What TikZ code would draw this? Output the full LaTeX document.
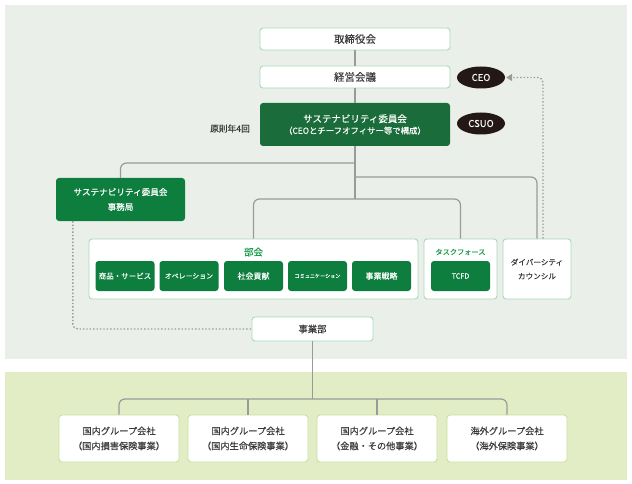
\documentclass[tikz,border=0pt]{standalone}
\usepackage{fontspec}
\setmainfont{Noto Sans CJK JP}[FakeBold=0.25]
\usetikzlibrary{shapes.geometric,arrows.meta,calc}
\definecolor{bgtop}{HTML}{EAF0E9}
\definecolor{bgbot}{HTML}{E2EDC6}
\definecolor{dgreen}{HTML}{1A6C3A}
\definecolor{mgreen}{HTML}{0E7E3E}
\definecolor{mint}{HTML}{A8D9BC}
\definecolor{lime}{HTML}{C6E29E}
\definecolor{lgrey}{HTML}{9A9A9A}
\definecolor{ebrown}{HTML}{231815}
\definecolor{tgreen}{HTML}{1C9A4B}
\definecolor{txt}{HTML}{3A3A3A}
\tikzset{
  wbox/.style={draw=mint, line width=0.9pt, fill=white, rounded corners=3pt, inner sep=0pt, align=center, text=txt, font=\fontsize{10.5}{12}\selectfont},
  gbox/.style={fill=mgreen, rounded corners=3pt, inner sep=0pt, align=center, text=white},
  sbox/.style={gbox, minimum width=59pt, minimum height=30pt, font=\fontsize{7.5}{9}\selectfont},
  cbox/.style={draw=lime, line width=0.9pt, fill=white, rounded corners=3pt, inner sep=0pt, align=center, text=txt, minimum width=120pt, minimum height=47pt, font=\fontsize{9.2}{15}\selectfont},
  oval/.style={ellipse, fill=ebrown, text=white, minimum width=48pt, minimum height=22pt, inner sep=0pt, font=\fontsize{9.5}{10}\selectfont},
  conn/.style={draw=lgrey, line width=1.2pt, rounded corners=6pt},
  dotln/.style={draw=lgrey, line width=1.4pt, dash pattern=on 1.4pt off 2pt, rounded corners=5pt},
}
\begin{document}
\begin{tikzpicture}[x=1pt,y=-1pt]
\useasboundingbox (0,0) rectangle (632,484);
\fill[bgtop] (5,5) rectangle (627,359);
\fill[bgbot] (5,372) rectangle (627,480);

% top chain
\node[wbox, minimum width=190pt, minimum height=22pt] (board) at (355,39) {取締役会};
\node[wbox, minimum width=190pt, minimum height=22pt] (mgmt) at (355,77) {経営会議};
\node[gbox, fill=dgreen, minimum width=190pt, minimum height=43pt] (cmt) at (355,124.5)
  {{\fontsize{9.5}{12}\selectfont サステナビリティ委員会}\\[-0.5pt]{\fontsize{8.4}{11}\selectfont （CEOとチーフオフィサー等で構成）}};
\node[text=txt, font=\fontsize{8.7}{10}\selectfont] (freq) at (230,128.5) {原則年4回};
\node[oval] (ceo) at (481,77.5) {CEO};
\node[oval] (csuo) at (481,123.5) {CSUO};

% secretariat
\node[gbox, minimum width=129pt, minimum height=43pt, font=\fontsize{8.6}{15}\selectfont] (sec) at (120.5,199.5) {サステナビリティ委員会\\事務局};

% bukai
\node[wbox, minimum width=329pt, minimum height=60pt] (bukai) at (253.5,269) {};
\node[text=tgreen, font=\fontsize{9.5}{10}\selectfont] (bukailbl) at (253.5,252) {部会};
\node[sbox] (s1) at (125,276) {商品・サービス};
\node[sbox, font=\fontsize{6.9}{8}\selectfont] (s2) at (189,276) {オペレーション};
\node[sbox, font=\fontsize{8}{9}\selectfont] (s3) at (253.5,276) {社会貢献};
\node[sbox, font=\fontsize{5.1}{7}\selectfont] (s4) at (317.5,276) {コミュニケーション};
\node[sbox, font=\fontsize{8}{9}\selectfont] (s5) at (381.5,276) {事業戦略};

% task force
\node[wbox, minimum width=73pt, minimum height=60pt] (tf) at (460.5,269) {};
\node[text=tgreen, font=\fontsize{7.2}{10}\selectfont] (tflbl) at (460.5,252) {タスクフォース};
\node[sbox, font=\fontsize{7.2}{9}\selectfont] (tcfd) at (460.5,276) {TCFD};

% diversity
\node[wbox, minimum width=68pt, minimum height=60pt, font=\fontsize{7.6}{14}\selectfont] (div) at (537,269) {ダイバーシティ\\カウンシル};

% jigyobu
\node[wbox, minimum width=121pt, minimum height=24pt, font=\fontsize{9.3}{10}\selectfont] (jig) at (312.5,329) {事業部};

% companies
\node[cbox] (c1) at (119,438.5) {国内グループ会社\\（国内損害保険事業）};
\node[cbox] (c2) at (248,438.5) {国内グループ会社\\（国内生命保険事業）};
\node[cbox] (c3) at (377,438.5) {国内グループ会社\\（金融・その他事業）};
\node[cbox] (c4) at (507,438.5) {海外グループ会社\\（海外保険事業）};

% junctions
\coordinate (j1) at (355,163);
\coordinate (j2) at (355,177);
\coordinate (j3) at (355,199);
\coordinate (j4) at (312.5,399);

% connectors
\draw[conn] (board.south) -- (mgmt.north);
\draw[conn] (mgmt.south) -- (cmt.north);
\draw[conn, rounded corners=0pt] (cmt.south) -- (j3);
\draw[conn] (j1) -| (sec.north);
\draw[conn] (j2) -| (div.north);
\draw[conn] (bukai.north) |- (j3) -| (tf.north);
\draw[dotln] ($(sec.south west)+(17,0)$) |- (jig.west);
\draw[dotln, -{Triangle[length=6pt,width=7pt,fill=lgrey]}] ($(div.north)+(6,0)$) |- ($(ceo.east)+(1,0)$);
\draw[conn, rounded corners=0pt] (jig.south) -- (j4);
\draw[conn] (c1.north) |- (j4) -| (c4.north);
\draw[conn] (c2.north) -- (c2.north |- j4);
\draw[conn] (c3.north) -- (c3.north |- j4);
\end{tikzpicture}
\end{document}
